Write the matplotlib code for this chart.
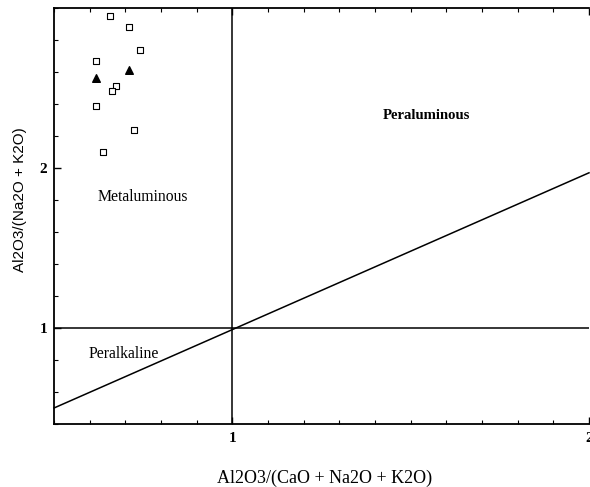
import numpy as np
import matplotlib
matplotlib.use("Agg")
import matplotlib.pyplot as plt
from matplotlib.ticker import MultipleLocator

# sample points
sq_x = [0.656, 0.711, 0.742, 0.617, 0.675, 0.664, 0.617, 0.725, 0.636]
sq_y = [2.95, 2.88, 2.74, 2.67, 2.51, 2.48, 2.39, 2.24, 2.10]
tri_x = [0.711, 0.619]
tri_y = [2.61, 2.56]

# Shand boundaries
line_x = [0.5, 2.0]
line_y = [0.5, 1.97]

fig = plt.figure(figsize=(5.9, 4.87), dpi=100)
ax = fig.add_axes([54 / 590, 63 / 487, 535 / 590, 416 / 487])

ax.set_xlim(0.5, 2.0)
ax.set_ylim(0.4, 3.0)

ax.axhline(1.0, color="black", lw=1.1)
ax.axvline(1.0, color="black", lw=1.1)
ax.plot(line_x, line_y, color="black", lw=1.1, clip_on=False)

ax.scatter(sq_x, sq_y, marker="s", s=22, facecolors="white",
           edgecolors="black", linewidths=0.8, zorder=3)
ax.scatter(tri_x, tri_y, marker="^", s=30, color="black", zorder=3)

serif = "Liberation Serif"
ax.text(1.545, 2.33, "Peraluminous", family=serif, fontsize=10.6,
        fontweight="bold", ha="center", va="center")
ax.text(0.749, 1.82, "Metaluminous", family=serif, fontsize=11.3,
        ha="center", va="center")
ax.text(0.696, 0.84, "Peralkaline", family=serif, fontsize=11.3,
        ha="center", va="center")

ax.xaxis.set_minor_locator(MultipleLocator(0.1))
ax.yaxis.set_minor_locator(MultipleLocator(0.2))
ax.set_xticks([1, 2])
ax.set_yticks([1, 2])
ax.set_xticklabels(["1", "2"], family=serif, fontweight="bold")
ax.set_yticklabels(["1", "2"], family=serif, fontweight="bold")
ax.tick_params(which="both", direction="in", top=True, right=False)
ax.tick_params(which="major", length=5, width=1.0, labelsize=11)
ax.tick_params(axis="x", which="major", pad=6)
ax.tick_params(axis="y", which="major", pad=5)
ax.tick_params(which="minor", length=3, width=0.8)

for sp in ax.spines.values():
    sp.set_linewidth(1.3)
# the scan cuts the frame off on the right
ax.spines["right"].set_visible(False)

fig.text(325 / 590, 1 - 478 / 487, "Al2O3/(CaO + Na2O + K2O)", family=serif,
         fontsize=13, ha="center", va="center")
fig.text(20 / 590, 1 - 200 / 487, "Al2O3/(Na2O + K2O)", family="Liberation Sans",
         fontsize=11, ha="center", va="center", rotation=90)

fig.savefig("out.png", dpi=100)
